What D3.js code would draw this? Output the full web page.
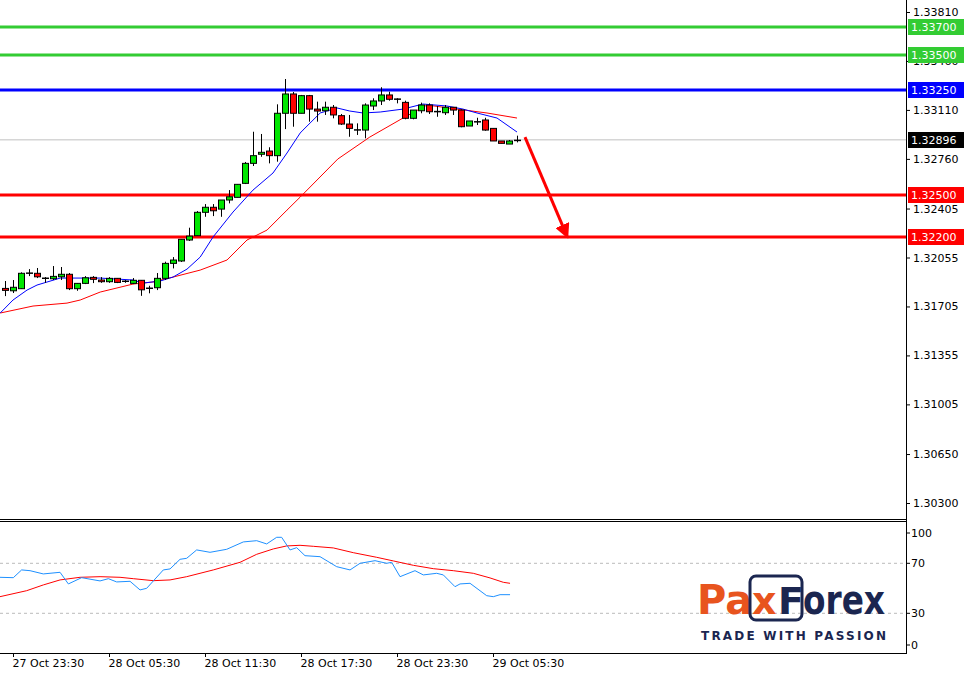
<!DOCTYPE html>
<html>
<head>
<meta charset="utf-8">
<script src="https://cdn.jsdelivr.net/npm/d3@7"></script>
<style>
  body { margin: 0; background: #fff; }
  text { font-family: "DejaVu Sans", sans-serif; }
</style>
</head>
<body>
<svg id="chart" width="967" height="674"></svg>
<script>
// candles, 30 min bars, index 0 = 27 Oct 23:00
const opens  = [1.31834,1.31817,1.31832,1.31942,1.31942,1.31910,1.31903,1.31917,1.31935,1.31832,1.31870,1.31913,1.31894,1.31882,1.31906,1.31884,1.31870,1.31892,1.31834,1.31839,1.31906,1.32013,1.32030,1.32180,1.32211,1.32378,1.32414,1.32401,1.32466,1.32485,1.32585,1.32728,1.32793,1.32816,1.32783,1.33086,1.33224,1.33086,1.33212,1.33116,1.33104,1.33129,1.33069,1.33009,1.32966,1.32966,1.33138,1.33174,1.33217,1.33188,1.33164,1.33050,1.33104,1.33145,1.33097,1.33090,1.33129,1.33109,1.32995,1.33026,1.33038,1.32978,1.32888,1.32866,1.32888];
const highs  = [1.31887,1.31894,1.31949,1.31972,1.31980,1.31915,1.31994,1.31987,1.31944,1.31872,1.31922,1.31922,1.31915,1.31915,1.31908,1.31894,1.31908,1.31894,1.31853,1.31944,1.32025,1.32058,1.32185,1.32268,1.32387,1.32437,1.32437,1.32466,1.32537,1.32578,1.32738,1.32954,1.32938,1.32843,1.33150,1.33331,1.33238,1.33217,1.33217,1.33169,1.33169,1.33145,1.33081,1.33074,1.33014,1.33157,1.33193,1.33272,1.33240,1.33193,1.33176,1.33109,1.33162,1.33157,1.33138,1.33145,1.33129,1.33114,1.33031,1.33054,1.33054,1.32978,1.32888,1.32895,1.32926];
const lows   = [1.31779,1.31801,1.31830,1.31922,1.31908,1.31874,1.31894,1.31894,1.31822,1.31817,1.31865,1.31872,1.31874,1.31874,1.31872,1.31874,1.31865,1.31781,1.31799,1.31822,1.31894,1.31977,1.32023,1.32173,1.32211,1.32346,1.32351,1.32346,1.32442,1.32485,1.32580,1.32709,1.32775,1.32728,1.32740,1.32973,1.32990,1.33086,1.33026,1.33026,1.33074,1.33050,1.33002,1.32918,1.32931,1.32907,1.33109,1.33145,1.33176,1.33157,1.33043,1.33043,1.33086,1.33081,1.33061,1.33074,1.33074,1.32986,1.32995,1.33002,1.32961,1.32888,1.32871,1.32866,1.32878];
const closes = [1.31820,1.31842,1.31942,1.31944,1.31917,1.31903,1.31920,1.31935,1.31832,1.31870,1.31910,1.31899,1.31882,1.31906,1.31877,1.31886,1.31892,1.31824,1.31836,1.31906,1.32013,1.32037,1.32185,1.32208,1.32378,1.32414,1.32389,1.32466,1.32489,1.32578,1.32728,1.32783,1.32807,1.32783,1.33086,1.33224,1.33086,1.33212,1.33116,1.33102,1.33129,1.33074,1.33009,1.32978,1.32968,1.33145,1.33174,1.33217,1.33186,1.33186,1.33050,1.33109,1.33145,1.33097,1.33099,1.33129,1.33109,1.32990,1.33031,1.33024,1.32966,1.32888,1.32871,1.32888,1.32896];

// moving averages (bar index, price)
const fastMaIdx = [-0.6,1,2.75,4,6.9,11.9,16,17.25,19.4,21,22.75,24.4,26,28.5,31,33.5,35.25,36.9,37.25,39.4,41.5,43.1,44.75,46.9,49.75,52.25,55.25,57.25,59,61.5,64];
const fastMa = [1.31658,1.31751,1.31822,1.31858,1.31908,1.31908,1.31894,1.31872,1.31887,1.31915,1.31972,1.32058,1.32201,1.32380,1.32537,1.32659,1.32802,1.32945,1.32966,1.33088,1.33124,1.33102,1.33088,1.33095,1.33116,1.33152,1.33138,1.33116,1.33088,1.33052,1.32952];
const slowMaIdx = [-0.6,3.5,7.75,9.4,11.9,16,18.5,21,24.4,27.75,30.25,32.75,35.25,36.9,41.6,45.6,49.75,52.75,56.5,60.25,64];
const slowMa = [1.31658,1.31708,1.31729,1.31751,1.31808,1.31865,1.31880,1.31915,1.31965,1.32037,1.32180,1.32251,1.32394,1.32487,1.32759,1.32916,1.33052,1.33145,1.33116,1.33088,1.33052];

// oscillator lines
const oscBlueIdx = [-0.63,1.04,2.08,3.13,4.79,6.88,7.92,9.58,11.88,12.92,13.96,15.63,16.88,17.71,19.79,20.63,21.88,22.71,23.96,25.63,27.71,29.79,31.46,32.71,33.96,34.58,35.63,36.46,37.5,39.38,41.46,43.13,44.38,46.25,47.71,48.33,49.38,51.25,52.29,53.96,54.79,56.25,56.88,58.13,60.21,61.04,61.88,63.13];
const oscBlue = [58.8,58.5,64.7,64.1,61.5,62.8,53.5,58.5,55.9,57.7,55.1,55.6,48.7,50,64.7,65.5,73.2,74,80.7,78.8,81.2,87.1,88.1,85.5,90.8,90.8,80.7,82.5,76.1,75.3,67.3,64.7,70,72.1,70,70.8,59.3,64.1,60.7,62,60.7,51.3,53.5,54,44.1,43.3,44.9,44.9];
const oscRedIdx = [-0.63,2.71,4.79,6.88,9.38,11.88,14.38,16.04,18.54,20.63,22.71,26.04,29.38,31.46,33.54,35.21,36.88,38.54,41.04,43.54,46.46,48.54,51.04,53.54,56.04,58.54,60.63,62.29,63.13];
const oscRed = [43.3,48.1,52.7,56.7,58.8,59.3,58.8,57.7,56.1,56.7,59.3,64.7,70.8,77.2,81.5,83.9,84.4,83.6,82.3,78.5,74.8,71.9,68.4,65.7,64.1,62,58.3,54.8,54];

const priceTicks = [1.33810,1.33460,1.33110,1.32760,1.32405,1.32055,1.31705,1.31355,1.31005,1.30650,1.30300];
const oscTicks = [100,70,30,0];
const timeTickIdx = [1,13,25,37,49,61];
const timeTickLabels = ["27 Oct 23:30","28 Oct 05:30","28 Oct 11:30","28 Oct 17:30","28 Oct 23:30","29 Oct 05:30"];

const levelPrices = [1.33700,1.33500,1.33250,1.32500,1.32200];
const levelColors = ["#33cc33","#33cc33","#0000ff","#ff0000","#ff0000"];
const lastPrice = 1.32896;
const arrowFrom = [65, 1.32916];
const arrowTo = [70.25, 1.32208];

const svg = d3.select("#chart");
const axisX = 906;

const x = d3.scaleLinear().domain([0, 1]).range([5, 13]);
const y = d3.scaleLinear().domain([1.30300, 1.33810]).range([503, 12]);
const yo = d3.scaleLinear().domain([30, 70]).range([613.3, 563.3]);

svg.append("defs").append("clipPath").attr("id", "mainClip")
  .append("rect").attr("x", 0).attr("y", 0).attr("width", axisX).attr("height", 518);
svg.append("defs").append("clipPath").attr("id", "oscClip")
  .append("rect").attr("x", 0).attr("y", 523).attr("width", axisX).attr("height", 130);

const main = svg.append("g").attr("clip-path", "url(#mainClip)");

// current price line
main.append("line").attr("x1", 0).attr("x2", axisX)
  .attr("y1", y(lastPrice)).attr("y2", y(lastPrice))
  .attr("stroke", "#c0c0c0").attr("stroke-width", 1);

// level lines
levelPrices.forEach((p, i) => {
  main.append("line").attr("x1", 0).attr("x2", axisX)
    .attr("y1", Math.round(y(p))).attr("y2", Math.round(y(p)))
    .attr("stroke", levelColors[i]).attr("stroke-width", 3);
});

// moving averages
const maLine = (idx) => d3.line().x((d, i) => x(idx[i])).y(d => y(d));
main.append("path").attr("d", maLine(slowMaIdx)(slowMa))
  .attr("fill", "none").attr("stroke", "#ff0000").attr("stroke-width", 1);
main.append("path").attr("d", maLine(fastMaIdx)(fastMa))
  .attr("fill", "none").attr("stroke", "#0000ff").attr("stroke-width", 1);

// candles
const candles = main.append("g");
opens.forEach((o, i) => {
  const c = closes[i];
  const cx = Math.round(x(i)) + 0.5;
  candles.append("line").attr("x1", cx).attr("x2", cx)
    .attr("y1", y(highs[i])).attr("y2", y(lows[i]))
    .attr("stroke", "#000").attr("stroke-width", 1);
  const top = y(Math.max(o, c)), bot = y(Math.min(o, c));
  if (bot - top < 1.5) {
    candles.append("line").attr("x1", cx - 3.5).attr("x2", cx + 3.5)
      .attr("y1", (top + bot) / 2).attr("y2", (top + bot) / 2)
      .attr("stroke", "#000").attr("stroke-width", 1.5);
  } else {
    candles.append("rect").attr("x", cx - 3).attr("y", top)
      .attr("width", 6).attr("height", bot - top)
      .attr("fill", c >= o ? "#00e600" : "#ff0000")
      .attr("stroke", "#000").attr("stroke-width", 1);
  }
});

// arrow
svg.append("defs").append("marker").attr("id", "head")
  .attr("viewBox", "0 0 10 10").attr("refX", 8).attr("refY", 5)
  .attr("markerWidth", 5).attr("markerHeight", 5).attr("orient", "auto")
  .append("path").attr("d", "M0,0 L10,5 L0,10 z").attr("fill", "#ff0000");
main.append("line")
  .attr("x1", x(arrowFrom[0])).attr("y1", y(arrowFrom[1]))
  .attr("x2", x(arrowTo[0])).attr("y2", y(arrowTo[1]))
  .attr("stroke", "#ff0000").attr("stroke-width", 3)
  .attr("marker-end", "url(#head)");

// price axis
const pAxis = svg.append("g").attr("transform", `translate(${axisX},0)`)
  .call(d3.axisRight(y).tickValues(priceTicks).tickFormat(d3.format(".5f")).tickSize(4).tickSizeOuter(0));
pAxis.select(".domain").remove();
pAxis.selectAll("text").attr("font-size", 11).attr("fill", "#000").attr("x", 7).attr("font-family", "DejaVu Sans");

// price labels on axis
const tags = levelPrices.map((p, i) => [p, levelColors[i], "#fff"]).concat([[lastPrice, "#000", "#fff"]]);
tags.forEach(([p, bg, fg]) => {
  const yy = Math.round(y(p));
  svg.append("rect").attr("x", axisX + 2).attr("y", yy - 8).attr("width", 56).attr("height", 16).attr("fill", bg);
  svg.append("text").attr("x", axisX + 5).attr("y", yy + 4).attr("font-size", 11).attr("fill", fg)
    .text(d3.format(".5f")(p));
});

// oscillator panel
const osc = svg.append("g").attr("clip-path", "url(#oscClip)");
[70, 30].forEach(v => {
  osc.append("line").attr("x1", 0).attr("x2", axisX).attr("y1", yo(v)).attr("y2", yo(v))
    .attr("stroke", "#bbbbbb").attr("stroke-dasharray", "3,3");
});
osc.append("path").attr("d", d3.line().x((d, i) => x(oscRedIdx[i])).y(d => yo(d))(oscRed))
  .attr("fill", "none").attr("stroke", "#ff0000").attr("stroke-width", 1);
osc.append("path").attr("d", d3.line().x((d, i) => x(oscBlueIdx[i])).y(d => yo(d))(oscBlue))
  .attr("fill", "none").attr("stroke", "#1e90ff").attr("stroke-width", 1);

const oAxis = svg.append("g").attr("transform", `translate(${axisX},0)`)
  .call(d3.axisRight(yo).tickValues(oscTicks).tickSize(4).tickSizeOuter(0));
oAxis.select(".domain").remove();
// edge labels are kept inside the panel, as the terminal does
oAxis.selectAll(".tick").attr("transform", d => `translate(0,${Math.min(645, Math.max(533, yo(d)))})`);
oAxis.selectAll("text").attr("font-size", 11).attr("fill", "#000").attr("x", 5).attr("font-family", "DejaVu Sans");

// frame lines
svg.append("line").attr("x1", axisX + 0.5).attr("x2", axisX + 0.5).attr("y1", 0).attr("y2", 654).attr("stroke", "#000");
svg.append("line").attr("x1", 0).attr("x2", axisX).attr("y1", 519.5).attr("y2", 519.5).attr("stroke", "#000");
svg.append("line").attr("x1", 0).attr("x2", axisX).attr("y1", 521.5).attr("y2", 521.5).attr("stroke", "#000");
svg.append("line").attr("x1", 0).attr("x2", axisX + 1).attr("y1", 653.5).attr("y2", 653.5).attr("stroke", "#000");

// time axis
const tAxis = svg.append("g").attr("transform", "translate(0,653)")
  .call(d3.axisBottom(x).tickValues(timeTickIdx).tickFormat((d, i) => timeTickLabels[i]).tickSize(4).tickSizeOuter(0));
tAxis.select(".domain").remove();
tAxis.selectAll("text").attr("font-size", 11).attr("fill", "#000").attr("text-anchor", "start")
  .attr("dx", -1).attr("y", 6).attr("font-family", "DejaVu Sans");

// logo
const logo = svg.append("g").attr("font-family", "Roboto, 'DejaVu Sans', sans-serif").attr("font-weight", "bold");
logo.append("text").attr("x", 697).attr("y", 614).attr("font-size", 40).attr("fill", "#e8541e").text("Pa");
logo.append("rect").attr("x", 750).attr("y", 576).attr("width", 52).attr("height", 44).attr("rx", 6)
  .attr("fill", "none").attr("stroke", "#1b2650").attr("stroke-width", 3);
logo.append("text").attr("x", 752).attr("y", 614).attr("font-size", 38).attr("fill", "#e8541e").text("x");
logo.append("text").attr("x", 778).attr("y", 614).attr("font-size", 38).attr("fill", "#1b2650").text("F");
logo.append("text").attr("x", 803).attr("y", 614).attr("font-size", 40).attr("fill", "#1b2650")
  .attr("textLength", 82).attr("lengthAdjust", "spacingAndGlyphs").text("orex");
logo.append("text").attr("x", 701).attr("y", 640).attr("font-size", 12).attr("fill", "#1b2650")
  .attr("textLength", 185).attr("lengthAdjust", "spacing").text("TRADE WITH PASSION");
</script>
</body>
</html>
